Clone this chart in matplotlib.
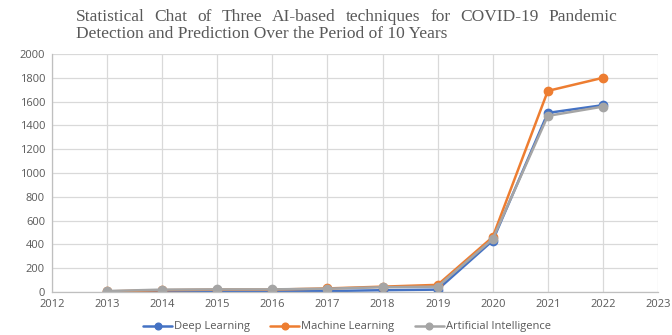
import matplotlib
matplotlib.use("Agg")
import matplotlib.pyplot as plt

years = [2013, 2014, 2015, 2016, 2017, 2018, 2019, 2020, 2021, 2022]
deep_learning = [3, 8, 10, 5, 8, 15, 20, 432, 1505, 1570]
machine_learning = [5, 15, 20, 20, 30, 45, 60, 462, 1690, 1800]
artificial_intelligence = [8, 20, 22, 22, 28, 40, 45, 445, 1480, 1558]

series_names = ["Deep Learning", "Machine Learning", "Artificial Intelligence"]
series_colors = ["#4472C4", "#ED7D31", "#A5A5A5"]

title_line1 = "Statistical Chat of Three AI-based techniques for COVID-19 Pandemic"
title_line2 = "Detection and Prediction Over the Period of 10 Years"

W, H = 672, 335
fig = plt.figure(figsize=(W / 100, H / 100), dpi=100)
ax = fig.add_axes([52 / W, 1 - 292 / H, (658 - 52) / W, (292 - 54) / H])

for vals, name, col in zip([deep_learning, machine_learning, artificial_intelligence],
                           series_names, series_colors):
    ax.plot(years, vals, color=col, lw=1.8, marker="o", ms=6, label=name,
            solid_capstyle="round")

ax.set_xlim(2012, 2023)
ax.set_ylim(0, 2000)
ax.set_xticks(range(2012, 2024))
ax.set_yticks(range(0, 2001, 200))
ax.grid(True, color="#D9D9D9", lw=0.9)
ax.set_axisbelow(True)
for side in ["top", "right"]:
    ax.spines[side].set_visible(False)
for side in ["left", "bottom"]:
    ax.spines[side].set_color("#BFBFBF")
    ax.spines[side].set_linewidth(0.9)
ax.tick_params(length=0, labelsize=8, labelcolor="#595959", pad=5,
               labelfontfamily="Open Sans")

# Title: first line justified across the chart width, second line left aligned
title_kw = dict(family="Liberation Serif", fontsize=12.5, color="#595959",
                va="baseline", ha="left")
x0, x1 = 76, 617
base1, base2 = 21, 38
renderer = fig.canvas.get_renderer()
words = title_line1.split()
texts = [fig.text(0, 0, w, **title_kw) for w in words]
widths = [t.get_window_extent(renderer).width for t in texts]
gap = (x1 - x0 - sum(widths)) / (len(words) - 1)
x = x0
for t, w in zip(texts, widths):
    t.set_position((x / W, 1 - base1 / H))
    x += w + gap
fig.text(x0 / W, 1 - base2 / H, title_line2, **title_kw)

leg = fig.legend(loc="center", bbox_to_anchor=(347 / W, 1 - 327 / H), ncol=3,
                 frameon=False, prop={"family": "Open Sans", "size": 8},
                 handlelength=2.6, columnspacing=1.8, handletextpad=0.2,
                 markerscale=0.8)
for t in leg.get_texts():
    t.set_color("#595959")

fig.savefig("out.png", dpi=100)
